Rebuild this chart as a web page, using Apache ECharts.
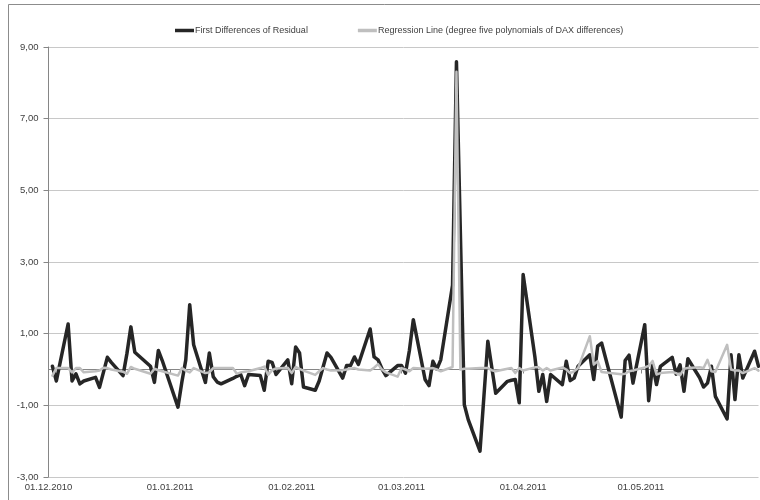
<!DOCTYPE html>
<html><head><meta charset="utf-8">
<script src="https://cdn.jsdelivr.net/npm/echarts@6/dist/echarts.min.js"></script>
<style>html,body{margin:0;padding:0;background:#fff}#c{width:760px;height:500px}</style>
</head><body><div id="c"></div>
<script>
const dates = [
'2010-12-02','2010-12-03','2010-12-06','2010-12-07','2010-12-08','2010-12-09','2010-12-10','2010-12-13','2010-12-14','2010-12-15','2010-12-16','2010-12-17','2010-12-20','2010-12-21','2010-12-22','2010-12-23','2010-12-27','2010-12-28','2010-12-29','2010-12-30',
'2011-01-03','2011-01-04','2011-01-05','2011-01-06','2011-01-07','2011-01-10','2011-01-11','2011-01-12','2011-01-13','2011-01-14','2011-01-17','2011-01-18','2011-01-19','2011-01-20','2011-01-21','2011-01-24','2011-01-25','2011-01-26','2011-01-27','2011-01-28','2011-01-31',
'2011-02-01','2011-02-02','2011-02-03','2011-02-04','2011-02-07','2011-02-08','2011-02-09','2011-02-10','2011-02-11','2011-02-14','2011-02-15','2011-02-16','2011-02-17','2011-02-18','2011-02-21','2011-02-22','2011-02-23','2011-02-24','2011-02-25','2011-02-28',
'2011-03-01','2011-03-02','2011-03-03','2011-03-04','2011-03-07','2011-03-08','2011-03-09','2011-03-10','2011-03-11','2011-03-14','2011-03-15','2011-03-16','2011-03-17','2011-03-18','2011-03-21','2011-03-22','2011-03-23','2011-03-24','2011-03-25','2011-03-28','2011-03-29','2011-03-30','2011-03-31',
'2011-04-01','2011-04-04','2011-04-05','2011-04-06','2011-04-07','2011-04-08','2011-04-11','2011-04-12','2011-04-13','2011-04-14','2011-04-15','2011-04-18','2011-04-19','2011-04-20','2011-04-21','2011-04-26','2011-04-27','2011-04-28','2011-04-29',
'2011-05-02','2011-05-03','2011-05-04','2011-05-05','2011-05-06','2011-05-09','2011-05-10','2011-05-11','2011-05-12','2011-05-13','2011-05-16','2011-05-17','2011-05-18','2011-05-19','2011-05-20','2011-05-23','2011-05-24','2011-05-25','2011-05-26','2011-05-27','2011-05-30','2011-05-31'
];
const residualDiff = [
0.09,-0.32,1.27,-0.32,-0.12,-0.40,-0.32,-0.22,-0.50,-0.08,0.34,0.20,-0.17,0.45,1.19,0.48,0.09,-0.36,0.53,0.25,
-1.05,-0.35,0.27,1.81,0.69,-0.36,0.46,-0.20,-0.35,-0.40,-0.25,-0.19,-0.14,-0.45,-0.14,-0.17,-0.58,0.23,0.20,-0.14,0.27,
-0.40,0.63,0.46,-0.49,-0.58,-0.32,0.07,0.46,0.34,-0.24,0.11,0.11,0.35,0.14,1.13,0.35,0.27,0.02,-0.17,0.11,
0.11,-0.10,0.53,1.39,-0.28,-0.45,0.23,0.01,0.27,2.35,8.59,3.80,-0.98,-1.40,-2.28,-0.75,0.79,0.06,-0.66,-0.33,-0.30,-0.28,-0.93,
2.65,0.35,-0.61,-0.14,-0.89,-0.14,-0.42,0.23,-0.31,-0.24,0.09,0.41,-0.28,0.65,0.74,-1.33,0.25,0.40,-0.38,
1.25,-0.87,0.13,-0.42,0.09,0.34,-0.13,0.13,-0.61,0.30,-0.23,-0.49,-0.38,0.09,-0.75,-1.38,0.41,-0.84,0.41,-0.24,0.51,0.09
];
const regression = [
-0.17,0.04,0.04,-0.08,0.04,0.04,-0.08,-0.05,-0.03,0.05,0.04,0.00,-0.06,-0.12,0.07,0.02,-0.12,0.02,-0.02,-0.05,
-0.17,0.04,-0.03,-0.08,0.04,-0.10,-0.08,0.04,0.04,0.04,0.04,-0.12,-0.08,-0.06,-0.05,0.04,0.08,-0.15,-0.02,0.03,0.05,
-0.10,0.07,0.02,-0.03,-0.15,-0.05,0.04,0.00,-0.03,-0.02,0.00,0.02,0.04,0.00,-0.03,0.05,0.15,0.00,-0.08,-0.20,
0.04,0.00,-0.05,0.04,0.02,0.03,0.04,0.00,-0.05,0.07,8.31,0.00,0.02,0.02,0.04,0.04,0.04,-0.02,-0.05,0.02,0.04,-0.10,0.04,
-0.03,0.06,0.06,-0.03,0.04,-0.03,0.06,0.00,-0.10,-0.05,0.04,0.93,0.14,0.23,-0.07,-0.13,-0.12,-0.05,-0.03,
0.06,0.10,0.24,-0.14,-0.10,-0.07,-0.10,-0.16,0.02,0.04,0.06,0.04,0.27,-0.05,-0.07,0.69,0.00,-0.03,-0.03,-0.10,0.04,-0.03
];
const seriesNames = ['First Differences of Residual','Regression Line (degree five polynomials of DAX differences)'];
const yTicks = {min:-3, max:9, interval:2};
const xRange = {min:'2010-12-01', max:'2011-05-31'};

const FONT = 'Liberation Sans';
const pad = n => (n<10?'0':'')+n;
const chart = echarts.init(document.getElementById('c'), null, {renderer:'canvas'});
chart.setOption({
  animation:false,
  backgroundColor:'#fff',
  graphic:[{type:'rect', shape:{x:8.5,y:4.5,width:800,height:600}, style:{fill:'none', stroke:'#8c8c8c', lineWidth:1}, silent:true}],
  legend:{
    left:170, top:21, itemWidth:19, itemHeight:3.5, itemGap:50, icon:'rect',
    textStyle:{fontFamily:FONT, fontSize:9, color:'#404040', padding:[0,0,0,-4]},
    data:seriesNames
  },
  grid:{left:48.5, right:1.5, top:47, bottom:23, containLabel:false},
  xAxis:{
    type:'time', min:xRange.min, max:xRange.max, splitNumber:6,
    axisLine:{lineStyle:{color:'#868686', width:1}},
    axisTick:{show:true, length:4, lineStyle:{color:'#868686'}},
    splitLine:{show:false},
    axisLabel:{fontFamily:FONT, fontSize:9.5, color:'#404040', margin:5, hideOverlap:false,
      formatter:v=>{const d=new Date(v);return pad(d.getDate())+'.'+pad(d.getMonth()+1)+'.'+d.getFullYear();}}
  },
  yAxis:{
    type:'value', min:yTicks.min, max:yTicks.max, interval:yTicks.interval,
    axisLine:{show:true, lineStyle:{color:'#868686', width:1}},
    axisTick:{show:true, length:5, lineStyle:{color:'#868686'}},
    splitLine:{lineStyle:{color:'#c8c8c8', width:1}},
    axisLabel:{fontFamily:FONT, fontSize:9.5, color:'#404040', margin:10,
      formatter:v=>v.toFixed(2).replace('.', ',')}
  },
  series:[
    {name:seriesNames[0], type:'line', showSymbol:false, symbol:'none', z:2,
     lineStyle:{color:'#262626', width:3.5, join:'round', cap:'round'}, itemStyle:{color:'#262626'},
     data:dates.map((d,i)=>[d, residualDiff[i]])},
    {name:seriesNames[1], type:'line', showSymbol:false, symbol:'none', z:3,
     lineStyle:{color:'#bfbfbf', width:2.5, join:'round', cap:'round'}, itemStyle:{color:'#bfbfbf'},
     data:dates.map((d,i)=>[d, regression[i]])}
  ]
});
</script></body></html>
